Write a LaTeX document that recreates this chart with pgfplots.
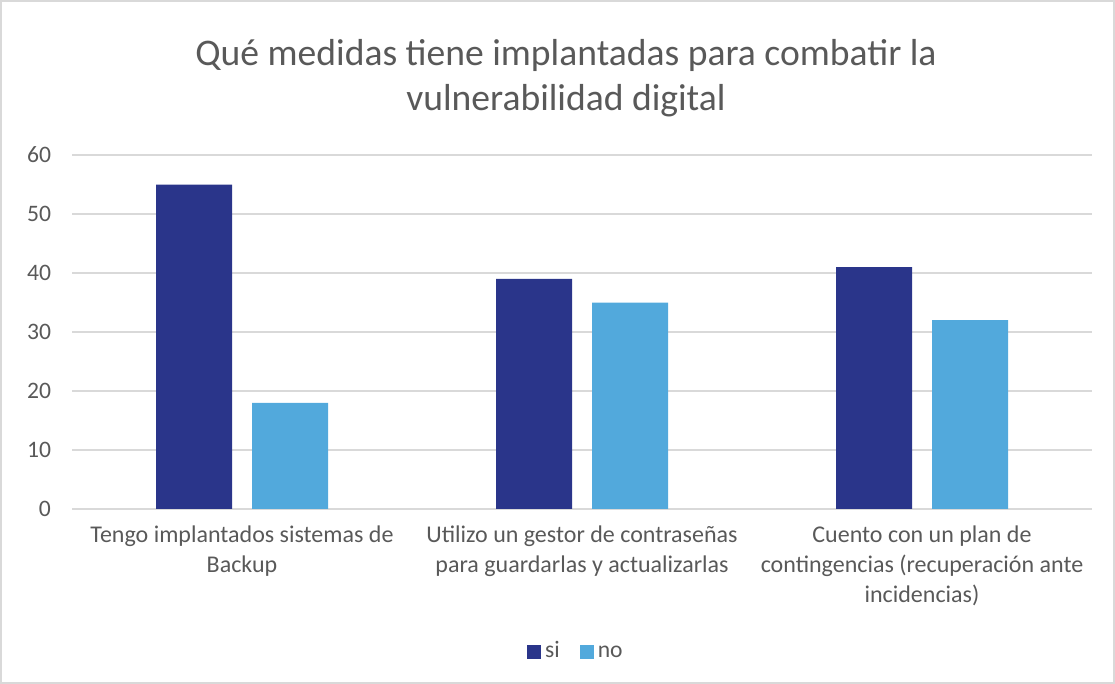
\documentclass[border=0pt]{standalone}
\usepackage{pgfplots}
\pgfplotsset{compat=1.18}
\usepackage{fontspec}
\setmainfont{Carlito}
\definecolor{si}{HTML}{2A358A}
\definecolor{no}{HTML}{52A9DC}
\definecolor{txt}{HTML}{595959}
\definecolor{grd}{HTML}{D9D9D9}
\begin{document}
\begin{tikzpicture}
\draw[grd, line width=0.8bp] (0.4bp,0.4bp) rectangle (557.1bp,341.6bp);
\node[txt, align=center, font=\fontsize{18.8bp}{22.5bp}\selectfont] at (283bp,303bp)
  {Qué medidas tiene implantadas para combatir la\\vulnerabilidad digital};
\begin{axis}[
    at={(36bp,87.5bp)}, anchor=south west,
    scale only axis, width=510bp, height=177bp,
    ybar=10bp, bar width=38bp,
    xmin=-0.5, xmax=2.5, ymin=0, ymax=60,
    ytick={0,10,...,60},
    xtick=data,
    xticklabels={{Tengo implantados sistemas de\\Backup},
                 {Utilizo un gestor de contraseñas\\para guardarlas y actualizarlas},
                 {Cuento con un plan de\\contingencias (recuperación ante\\incidencias)}},
    xticklabel style={align=center, text=txt,
        font=\fontsize{12bp}{15bp}\selectfont, yshift=-5bp},
    yticklabel style={text=txt, font=\fontsize{11.8bp}{12bp}\selectfont, xshift=-7bp},
    /pgf/number format/assume math mode=true,
    major tick length=0pt,
    axis x line*=bottom, axis y line*=left,
    y axis line style={draw=none},
    x axis line style={grd, line width=1bp, -},
    ymajorgrids, grid style={grd, line width=0.7bp},
    legend style={at={(0.495,-0.404)}, anchor=center, draw=none,
        legend columns=2, font=\fontsize{11.8bp}{12bp}\selectfont, text=txt,
        nodes={text height=1.5ex, text depth=0.3ex},
        /tikz/every even column/.append style={column sep=8bp}},
    legend image code/.code={\fill[#1] (0bp,-3.5bp) rectangle (7bp,3.5bp);},
]
\addplot[fill=si, draw=none] coordinates {(0,55) (1,39) (2,41)};
\addplot[fill=no, draw=none] coordinates {(0,18) (1,35) (2,32)};
\legend{si,no}
\end{axis}
\end{tikzpicture}
\end{document}
